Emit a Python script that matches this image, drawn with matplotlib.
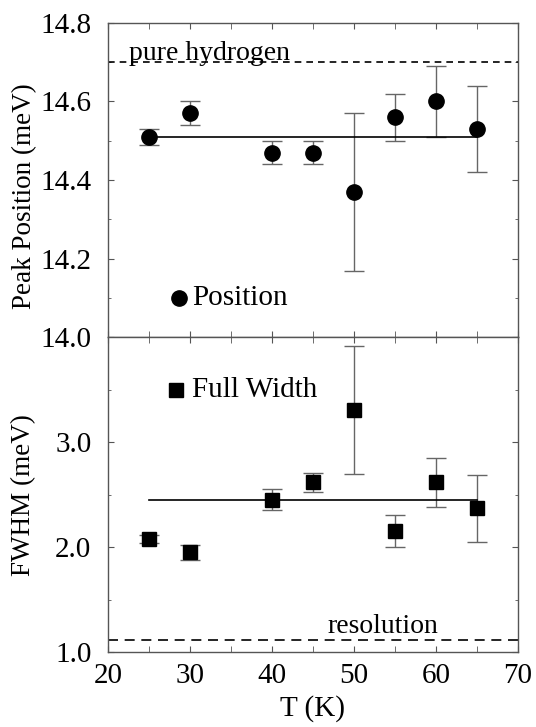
import matplotlib
matplotlib.use("Agg")
import matplotlib.pyplot as plt
from matplotlib.ticker import MultipleLocator, FixedLocator, FormatStrFormatter

plt.rcParams['font.family'] = ['Liberation Serif', 'DejaVu Serif']

# Data
T = [25, 30, 40, 45, 50, 55, 60, 65]
position = [14.51, 14.57, 14.47, 14.47, 14.37, 14.56, 14.60, 14.53]
position_err = [0.02, 0.03, 0.03, 0.03, 0.20, 0.06, 0.09, 0.11]
fwhm = [2.08, 1.95, 2.45, 2.62, 3.31, 2.155, 2.62, 2.37]
fwhm_err = [0.04, 0.07, 0.10, 0.09, 0.61, 0.15, 0.235, 0.32]
position_fit = 14.51
fwhm_fit = 2.445
pure_hydrogen = 14.70
resolution = 1.11
fit_range = [25, 65]

fig = plt.figure(figsize=(5.36, 7.27), dpi=100)
ax1 = fig.add_axes([0.2015, 0.5358, 0.7649, 0.4330])
ax2 = fig.add_axes([0.2015, 0.1032, 0.7649, 0.4326], sharex=ax1)

spine_col = '#555555'
err_col = '#666666'
fs = 21

for ax in (ax1, ax2):
    for s in ax.spines.values():
        s.set_color(spine_col)
        s.set_linewidth(1.0)
    ax.tick_params(axis='both', which='both', color=spine_col, labelsize=fs,
                   direction='in', top=True, right=True)
    ax.tick_params(axis='both', which='major', length=4, pad=12)
    ax.tick_params(axis='y', which='minor', length=2.5)
    ax.tick_params(axis='x', which='minor', length=4)
    ax.tick_params(axis='x', which='major', pad=8)
    ax.set_xlim(20, 70)
    ax.xaxis.set_major_locator(MultipleLocator(10))
    ax.xaxis.set_minor_locator(MultipleLocator(5))

# Top panel
ax1.errorbar(T, position, yerr=position_err, fmt='o', color='black', ms=11,
             ecolor=err_col, elinewidth=1.0, capsize=7, capthick=1.0)
ax1.plot(fit_range, [position_fit, position_fit], color='black', lw=1.2)
ax1.axhline(pure_hydrogen, color='black', lw=1.2, ls=(0, (4, 3)))
ax1.text(22.6, pure_hydrogen + 0.004, 'pure hydrogen', fontsize=20, va='baseline', ha='left')
ax1.plot([28.6], [14.1], 'o', color='black', ms=11)
ax1.text(30.3, 14.1, 'Position', fontsize=fs, va='center', ha='left')
ax1.set_ylim(14.0, 14.8)
ax1.yaxis.set_major_locator(MultipleLocator(0.2))
ax1.yaxis.set_minor_locator(MultipleLocator(0.1))
ax1.yaxis.set_major_formatter(FormatStrFormatter('%.1f'))
ax1.set_ylabel('Peak Position (meV)', fontsize=19.5)
ax1.yaxis.set_label_coords(-0.172, 0.45)
ax1.tick_params(axis='x', labelbottom=False)

# Bottom panel
ax2.errorbar(T, fwhm, yerr=fwhm_err, fmt='s', color='black', ms=10,
             ecolor=err_col, elinewidth=1.0, capsize=7, capthick=1.0)
ax2.plot(fit_range, [fwhm_fit, fwhm_fit], color='black', lw=1.2)
ax2.axhline(resolution, color='black', lw=1.2, ls=(0, (6, 4)))
ax2.text(46.8, 1.18, 'resolution', fontsize=20, va='baseline', ha='left')
ax2.plot([28.3], [3.5], 's', color='black', ms=10)
ax2.text(30.3, 3.5, 'Full Width', fontsize=fs, va='center', ha='left')
ax2.set_ylim(1.0, 4.0)
ax2.yaxis.set_major_locator(FixedLocator([1.0, 2.0, 3.0]))
ax2.yaxis.set_minor_locator(FixedLocator([1.5, 2.5, 3.5]))
ax2.yaxis.set_major_formatter(FormatStrFormatter('%.1f'))
ax2.set_ylabel('FWHM (meV)', fontsize=19.5)
ax2.yaxis.set_label_coords(-0.175, 0.5)
ax2.set_xlabel('T (K)', fontsize=fs, labelpad=4)

fig.savefig('out.png', dpi=100)
